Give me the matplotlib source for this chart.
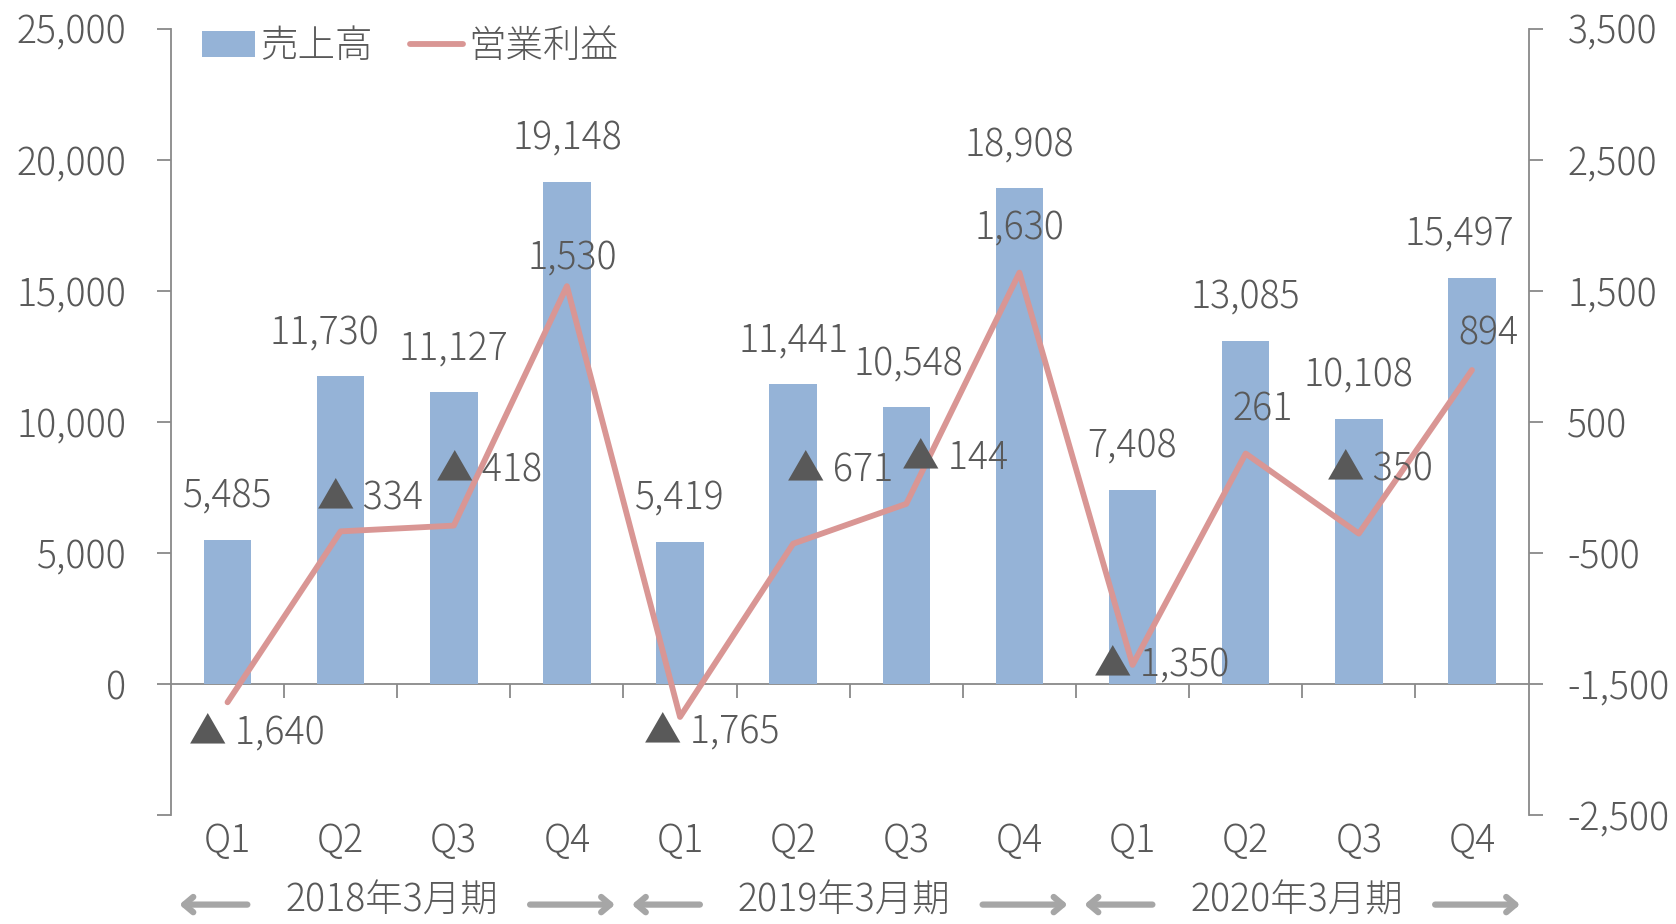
import matplotlib
matplotlib.use('Agg')
import matplotlib.pyplot as plt
from matplotlib.ticker import FuncFormatter

plt.rcParams['font.family'] = ['Noto Sans CJK JP', 'DejaVu Sans']
plt.rcParams['font.weight'] = 'light'

# data
quarters = ['Q1', 'Q2', 'Q3', 'Q4'] * 3
periods = ['2018年3月期', '2019年3月期', '2020年3月期']
sales = [5485, 11730, 11127, 19148, 5419, 11441, 10548, 18908, 7408, 13085, 10108, 15497]
# operating profit as drawn by the line
profit = [-1640, -336, -292, 1535, -1752, -430, -126, 1638, -1355, 258, -353, 895]
# operating profit as printed in the labels
profit_labels = ['▲ 1,640', '▲ 334', '▲ 418', '1,530', '▲ 1,765', '▲ 671',
                 '▲ 144', '1,630', '▲ 1,350', '261', '▲ 350', '894']

# label offsets (pixels)
sales_dx = [0, -16, 0, 0, 0, 0, 2, 0, 0, 0, 0, -13]
profit_off = [(29, -31), (29, 33), (35, 55), (5, 27), (32, -16), (47, 73),
              (49, 46), (0, 44), (29, -1), (17, 44), (21, 64), (16, 36)]

TXT = '#595959'
AXC = '#898989'
FS = 27

fig = plt.figure(figsize=(16.76, 9.24), dpi=100)
ax = fig.add_axes([0.102, 0.118, 0.810, 0.851])
x = list(range(len(sales)))
bars = ax.bar(x, sales, width=0.42, color='#95B3D7', label='売上高')
ax.set_xlim(-0.5, 11.5)
ax.set_ylim(-5000, 25000)
ax.set_yticks(range(-5000, 25001, 5000))
ax.yaxis.set_major_formatter(FuncFormatter(lambda v, p: '' if v < 0 else f'{v:,.0f}'))
ax.set_xticks(x)
ax.set_xticklabels(quarters)
for s in ['top', 'right', 'bottom']:
    ax.spines[s].set_visible(False)
ax.spines['left'].set_color(AXC)
ax.spines['left'].set_linewidth(1.3)
ax.tick_params(axis='y', direction='out', length=10, width=1.3, color=AXC,
               labelcolor=TXT, labelsize=FS, pad=22)
ax.tick_params(axis='x', length=0, labelcolor=TXT, labelsize=FS, pad=5)

for i, v in enumerate(sales):
    ax.annotate(f'{v:,}', (i, v), xytext=(sales_dx[i], 43), textcoords='offset pixels',
                ha='center', va='center', fontsize=FS, color=TXT)

# zero line with category boundary ticks
zpos = (0 - (-5000)) / 30000
sec = ax.secondary_xaxis(zpos)
sec.set_xticks([i + 0.5 for i in range(11)])
sec.set_xticklabels([])
sec.spines['bottom'].set_color(AXC)
sec.spines['bottom'].set_linewidth(1.3)
sec.tick_params(direction='out', length=10, width=1.3, color=AXC)

ax2 = ax.twinx()
ax2.plot(x, profit, color='#D99694', lw=4.2, label='営業利益', solid_capstyle='round')
ax2.set_ylim(-2500, 3500)
ax2.set_yticks(range(-2500, 3501, 1000))
ax2.yaxis.set_major_formatter(FuncFormatter(lambda v, p: f'{v:,.0f}'))
for s in ['top', 'left', 'bottom']:
    ax2.spines[s].set_visible(False)
ax2.spines['right'].set_color(AXC)
ax2.spines['right'].set_linewidth(1.3)
ax2.tick_params(axis='y', direction='out', length=10, width=1.3, color=AXC,
                labelcolor=TXT, labelsize=FS, pad=18)

for i, v in enumerate(profit):
    ax2.annotate(profit_labels[i], (i, v), xytext=profit_off[i], textcoords='offset pixels',
                 ha='center', va='center', fontsize=FS, color=TXT)

h1, l1 = ax.get_legend_handles_labels()
h2, l2 = ax2.get_legend_handles_labels()
leg = ax2.legend(h1 + h2, l1 + l2, loc='upper left', bbox_to_anchor=(0.012, 1.022),
                 ncol=2, frameon=False, fontsize=FS, handlelength=1.4,
                 handletextpad=0.15, columnspacing=1.0, borderaxespad=0)
for t in leg.get_texts():
    t.set_color(TXT)

# fiscal period labels with arrows
yf = 3 / 924
ya = 0.021
for k, p in enumerate(periods):
    b = 4 * k
    ax.annotate(p, (b + 1.45, yf), xycoords=('data', 'figure fraction'),
                ha='center', va='bottom', fontsize=FS, color=TXT, annotation_clip=False)
    for tail, tip in [(b + 0.2, b - 0.45), (b + 2.65, b + 3.45)]:
        ax.annotate('', xy=(tip, ya), xytext=(tail, ya),
                    xycoords=('data', 'figure fraction'), annotation_clip=False,
                    arrowprops=dict(arrowstyle='->,head_length=0.65,head_width=0.55',
                                    color='#A6A6A6', lw=4.5))

fig.savefig('out.png', dpi=100)
